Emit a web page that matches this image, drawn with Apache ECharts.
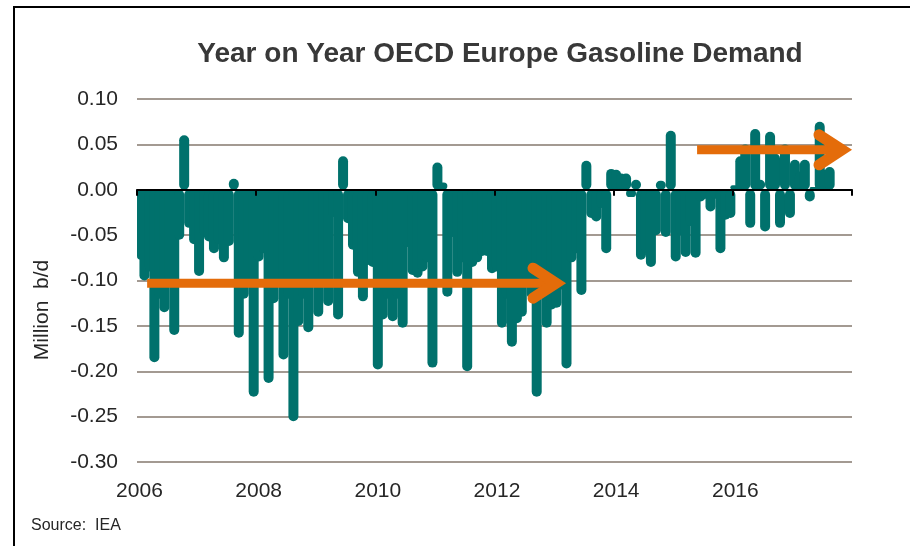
<!DOCTYPE html>
<html>
<head>
<meta charset="utf-8">
<script src="https://cdn.jsdelivr.net/npm/echarts@6.0.0/dist/echarts.min.js"></script>
<style>
html, body { margin: 0; padding: 0; background: #fff; }
#chart { width: 910px; height: 546px; }
</style>
</head>
<body>
<div id="chart"></div>
<script>
// axis runs Jan 2006 .. Dec 2017, one category per month
const years = [2006, 2007, 2008, 2009, 2010, 2011, 2012, 2013, 2014, 2015, 2016, 2017];
const months = [];
years.forEach(y => {
    for (let m = 1; m <= 12; m++) months.push(y + '-' + String(m).padStart(2, '0'));
});

// y/y change in demand, million b/d
const yoy2006 = [-0.077, -0.10, -0.09, -0.19, -0.12, -0.135, -0.10, -0.16, -0.055, 0.06, -0.042, -0.06];
const yoy2007 = [-0.095, -0.05, -0.057, -0.07, -0.06, -0.08, -0.062, 0.012, -0.163, -0.12, -0.10, -0.228];
const yoy2008 = [-0.079, -0.07, -0.213, -0.125, -0.10, -0.187, -0.12, -0.255, -0.15, -0.12, -0.157, -0.10];
const yoy2009 = [-0.14, -0.10, -0.128, -0.03, -0.143, 0.037, -0.037, -0.066, -0.096, -0.123, -0.083, -0.085];
const yoy2010 = [-0.198, -0.143, -0.12, -0.145, -0.12, -0.152, -0.063, -0.094, -0.097, -0.09, -0.08, -0.196];
const yoy2011 = [0.03, 0.008, -0.118, -0.052, -0.096, -0.08, -0.20, -0.085, -0.08, -0.073, -0.073, -0.092];
const yoy2012 = [-0.09, -0.152, -0.12, -0.173, -0.147, -0.14, -0.10, -0.12, -0.228, -0.12, -0.152, -0.132];
const yoy2013 = [-0.13, -0.11, -0.197, -0.08, -0.07, -0.116, 0.032, -0.031, -0.035, -0.02, -0.07, 0.023];
const yoy2014 = [0.022, 0.018, 0.018, -0.008, 0.011, -0.077, -0.07, -0.085, -0.05, 0.01, -0.052, 0.065];
const yoy2015 = [-0.079, -0.05, -0.074, -0.04, -0.075, -0.013, -0.01, -0.024, -0.01, -0.07, -0.033, -0.031];
const yoy2016 = [0.005, 0.037, 0.05, -0.042, 0.067, 0.011, -0.046, 0.064, 0.04, -0.042, 0.05, -0.031];
const yoy2017 = [0.033, 0.02, 0.033, -0.013, 0.003, 0.075, 0.022, 0.025];

const yoy = [].concat(yoy2006, yoy2007, yoy2008, yoy2009, yoy2010, yoy2011,
    yoy2012, yoy2013, yoy2014, yoy2015, yoy2016, yoy2017);

// trend arrows: [from year, tip year, level]
const trendBefore = [2006.17, 2013.2, -0.103];
const trendAfter = [2015.4, 2018.0, 0.044];

const TEAL = '#00716c';
const ORANGE = '#e46c0a';
const GRID = '#a39a92';
const TEXT = '#262626';
const FONT = '"Liberation Sans", Arial, sans-serif';

const everyTwoYears = (i) => i % 24 === 0;

const chart = echarts.init(document.getElementById('chart'));

chart.setOption({
    animation: false,
    backgroundColor: '#fff',
    title: {
        text: 'Year on Year OECD Europe Gasoline Demand',
        left: 495,
        top: 35,
        textAlign: 'center',
        textStyle: { fontFamily: FONT, fontSize: 28, fontWeight: 'bold', color: '#383838' }
    },
    grid: { left: 137, right: 58, top: 99, bottom: 84, containLabel: false },
    xAxis: [{
        type: 'category',
        data: months,
        axisLine: { show: false, onZero: false },
        axisTick: { show: false },
        axisLabel: {
            interval: (i) => everyTwoYears(i),
            formatter: (v) => v.slice(0, 4),
            margin: 19,
            fontFamily: FONT, fontSize: 21, color: TEXT
        },
        splitLine: { show: false }
    }, {
        type: 'category',
        data: months,
        position: 'bottom',
        z: 10,
        axisLine: { show: true, onZero: true, lineStyle: { color: '#000', width: 2 } },
        axisTick: { show: true, interval: (i) => everyTwoYears(i), length: 6, lineStyle: { color: '#000', width: 2 } },
        axisLabel: { show: false },
        splitLine: { show: false }
    }],
    yAxis: {
        type: 'value',
        min: -0.30,
        max: 0.10,
        interval: 0.05,
        axisLine: { show: false },
        axisTick: { show: false },
        axisLabel: {
            formatter: (v) => v.toFixed(2),
            margin: 19,
            fontFamily: FONT, fontSize: 21, color: TEXT
        },
        splitLine: { lineStyle: { color: GRID, width: 2 } }
    },
    series: [{
        type: 'bar',
        data: yoy,
        barWidth: 10,
        itemStyle: { color: TEAL, borderRadius: 5 }
    }]
});

// frame, axis title, source note and the two trend arrows (placed through the axes)
function xOfYear(year) {
    const a = chart.convertToPixel({ xAxisIndex: 0 }, 0);
    const b = chart.convertToPixel({ xAxisIndex: 0 }, 1);
    const band = b - a;
    return a - band / 2 + (year - 2006) * 12 * band;
}
function yOf(v) {
    return chart.convertToPixel({ yAxisIndex: 0 }, v);
}
function arrow(spec) {
    const x0 = xOfYear(spec[0]);
    const tip = xOfYear(spec[1]) - 10;   // outer point of the mitred head lands on spec[1]
    const y = yOf(spec[2]);
    return [{
        type: 'line', z: 20,
        shape: { x1: x0, y1: y, x2: tip - 3, y2: y },
        style: { stroke: ORANGE, lineWidth: 9, lineCap: 'butt' }
    }, {
        type: 'polyline', z: 20,
        shape: { points: [[tip - 23, y - 15], [tip, y], [tip - 23, y + 15]] },
        style: { stroke: ORANGE, lineWidth: 11, lineCap: 'round', lineJoin: 'miter', fill: null }
    }];
}

chart.setOption({
    graphic: [{
        type: 'rect', z: 30,
        shape: { x: 14, y: 7, width: 1000, height: 1000 },
        style: { stroke: '#000', lineWidth: 2, fill: null }
    }, {
        type: 'text', z: 30, x: 42, y: 310, rotation: Math.PI / 2,
        style: {
            text: 'Million  b/d', fontFamily: FONT, fontSize: 21, fill: TEXT,
            align: 'center', verticalAlign: 'middle'
        }
    }, {
        type: 'text', z: 30, left: 31, top: 518,
        style: { text: 'Source:  IEA', fontFamily: FONT, fontSize: 16, fill: TEXT }
    }].concat(arrow(trendBefore), arrow(trendAfter))
});
</script>
</body>
</html>
